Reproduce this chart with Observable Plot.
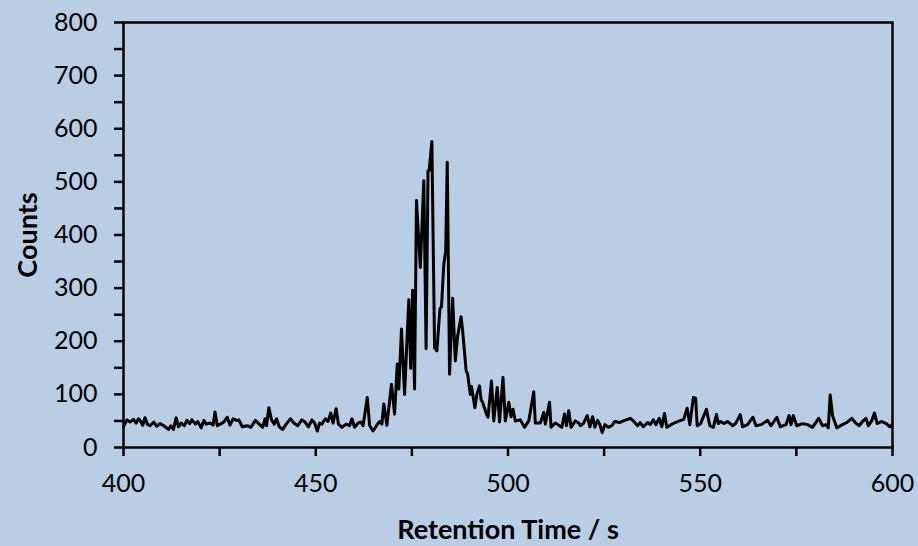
<!DOCTYPE html>
<html>
<head>
<meta charset="utf-8">
<script src="https://cdn.jsdelivr.net/npm/d3@7"></script>
<script src="https://cdn.jsdelivr.net/npm/@observablehq/plot@0.6"></script>
<style>
  html, body { margin: 0; padding: 0; background: #B9CDE5; }
  #chart { width: 918px; height: 546px; }
</style>
</head>
<body>
<div id="chart"></div>
<script>
// Retention time (s)
const times = [
  400, 400.9, 401.7, 402.6, 403.3, 403.9, 404.5, 405, 405.6, 406.2, 406.9, 407.9, 408.6, 409.5,
  410.5, 411.7, 412.3, 413, 413.7, 414.3, 415, 415.8, 416.5, 417.2, 417.8, 418.7, 419.3,
  420.2, 420.9, 421.5, 422.6, 423.3, 423.8, 424.4, 425.2, 426.1, 427, 427.7, 428.5, 429.4,
  430, 430.9, 432.2, 433.1, 434.3, 435.3, 436.2, 436.8, 437.2, 437.8, 438.5, 439.2, 439.8,
  440.5, 441.4, 442.3, 443.4, 444.3, 445.3, 446.4, 447.2, 448.1, 449, 449.7,
  450.4, 451, 451.6, 452.5, 453.2, 453.9, 454.5, 455.3, 455.9, 456.8, 457.9, 458.8, 459.4,
  460.1, 461, 461.7, 462.3, 463.4, 464, 464.9, 465.8, 466.6, 467.2, 467.7, 468.5, 469.7,
  470.5, 471.2, 471.6, 472.3, 473.1, 474.2, 474.7, 475.2, 475.7, 476.2, 477.2, 478.1, 478.7,
  479.2, 479.5, 480.2, 480.9, 481.5, 482.3, 482.7, 483.3, 483.8, 484.2, 484.8, 485.6, 486.3,
  486.9, 487.8, 488.2, 489.1, 489.5, 490.2, 490.5, 491.4, 491.9, 492.6, 493, 493.4, 494.4,
  494.8, 495.7, 496.3, 497.2, 497.8, 498.7, 499.3, 500.2, 500.8, 501.3, 501.9, 503.2, 504.3,
  505.4, 506.7, 507.1, 508.4, 509.3, 509.7, 510.8, 511.2, 512.3, 514, 514.7, 515.2, 515.8,
  516.4, 517.5, 518.4, 518.8, 519.6, 520.6, 521.3, 522, 522.6, 523.3, 523.9, 524.5, 525.2,
  526.1, 527, 527.8, 529, 530, 531.1, 531.8, 532.6, 533.7, 534.4, 535.2, 536.3, 537, 537.8,
  538.5, 539.3, 540, 540.7, 541.3, 542.4, 543.5, 544.6, 545.7, 546.6, 547.3, 548.2, 548.8,
  549.2, 550.1, 551.6, 552.5, 553.4, 554.2, 554.7, 555.3, 556.2, 557.1, 558.4, 559.2, 560.4,
  561, 562.3, 563.7, 564.5, 565.8, 567.5, 568.4, 569.9, 570.8, 572.3, 573.1, 573.6, 574.2,
  575.1, 576.6, 577.9, 579.2, 580.8, 581.8, 582.7, 583.3, 583.8, 584.4, 585.5, 587, 588.1,
  589.4, 590.3, 591.3, 592.2, 593.1, 593.7, 594.6, 595.3, 596, 597.1, 598.4, 599.3, 599.9
];
// Counts
const counts = [
  40, 52, 48, 53, 46, 54, 49, 42, 56, 44, 41, 48, 40, 45,
  41, 34, 41, 34, 56, 39, 46, 41, 51, 45, 52, 44, 49,
  37, 51, 44, 46, 42, 67, 41, 44, 48, 57, 42, 54, 51,
  52, 39, 41, 38, 51, 44, 38, 54, 41, 75, 52, 44, 54,
  39, 34, 44, 54, 46, 41, 52, 48, 39, 52, 46,
  31, 46, 44, 54, 49, 65, 46, 73, 44, 38, 44, 41, 54,
  38, 46, 48, 41, 94, 42, 31, 41, 49, 44, 82, 42, 119,
  63, 157, 110, 223, 100, 278, 149, 296, 110, 465, 339, 502, 186,
  521, 521, 576, 188, 182, 261, 265, 345, 370, 537, 138, 281, 163,
  210, 246, 220, 145, 138, 100, 115, 75, 100, 116, 90, 85, 63,
  57, 125, 50, 113, 48, 132, 50, 85, 58, 72, 50, 52, 38,
  50, 105, 46, 46, 66, 44, 85, 38, 46, 38, 63, 41, 69,
  38, 50, 46, 41, 45, 60, 39, 58, 38, 51, 43, 28, 43,
  38, 41, 49, 47, 50, 53, 55, 50, 41, 47, 39, 47, 43, 52,
  43, 55, 39, 64, 38, 43, 47, 50, 53, 74, 43, 94, 93,
  41, 45, 72, 41, 38, 62, 45, 49, 45, 49, 41, 45, 62,
  39, 43, 57, 41, 43, 51, 41, 57, 39, 43, 60, 43, 60,
  41, 45, 43, 38, 55, 41, 43, 37, 99, 60, 37, 43, 47,
  55, 47, 41, 49, 55, 41, 50, 65, 45, 49, 45, 39, 43
];
const xTicks = [400, 425, 450, 475, 500, 525, 550, 575, 600];
const yTicks = [0, 50, 100, 150, 200, 250, 300, 350, 400, 450, 500, 550, 600, 650, 700, 750, 800];
const xTitle = "Retention Time / s";
const yTitle = "Counts";

const data = times.map((t, i) => ({t, c: counts[i]}));

const chart = Plot.plot({
  width: 918,
  height: 546,
  marginLeft: 123,
  marginRight: 26,
  marginTop: 22,
  marginBottom: 99,
  x: {domain: [400, 600]},
  y: {domain: [0, 800]},
  style: {background: "#B9CDE5", fontFamily: "Lato, 'Noto Sans', sans-serif", fontSize: "25px", color: "#000"},
  marks: [
    Plot.frame({stroke: "#000", strokeWidth: 2.5}),
    Plot.axisX({ticks: xTicks, tickFormat: d => d % 50 === 0 ? String(d) : "", tickSize: 9, tickPadding: 18, strokeWidth: 2.5, label: null, fontSize: 25}),
    Plot.axisY({ticks: yTicks, tickFormat: d => d % 100 === 0 ? String(d) : "", tickSize: 9, tickPadding: 17, strokeWidth: 2.5, label: null, fontSize: 25}),
    Plot.line(data, {x: "t", y: "c", stroke: "#000", strokeWidth: 3, strokeLinejoin: "round"}),
    Plot.text([xTitle], {frameAnchor: "bottom", dy: 83, textAnchor: "middle", lineAnchor: "middle", fontWeight: "bold", fontSize: 27}),
    Plot.text([yTitle], {frameAnchor: "left", dx: -95, rotate: -90, textAnchor: "middle", lineAnchor: "middle", fontWeight: "bold", fontSize: 27})
  ]
});
document.getElementById("chart").appendChild(chart);
</script>
</body>
</html>
